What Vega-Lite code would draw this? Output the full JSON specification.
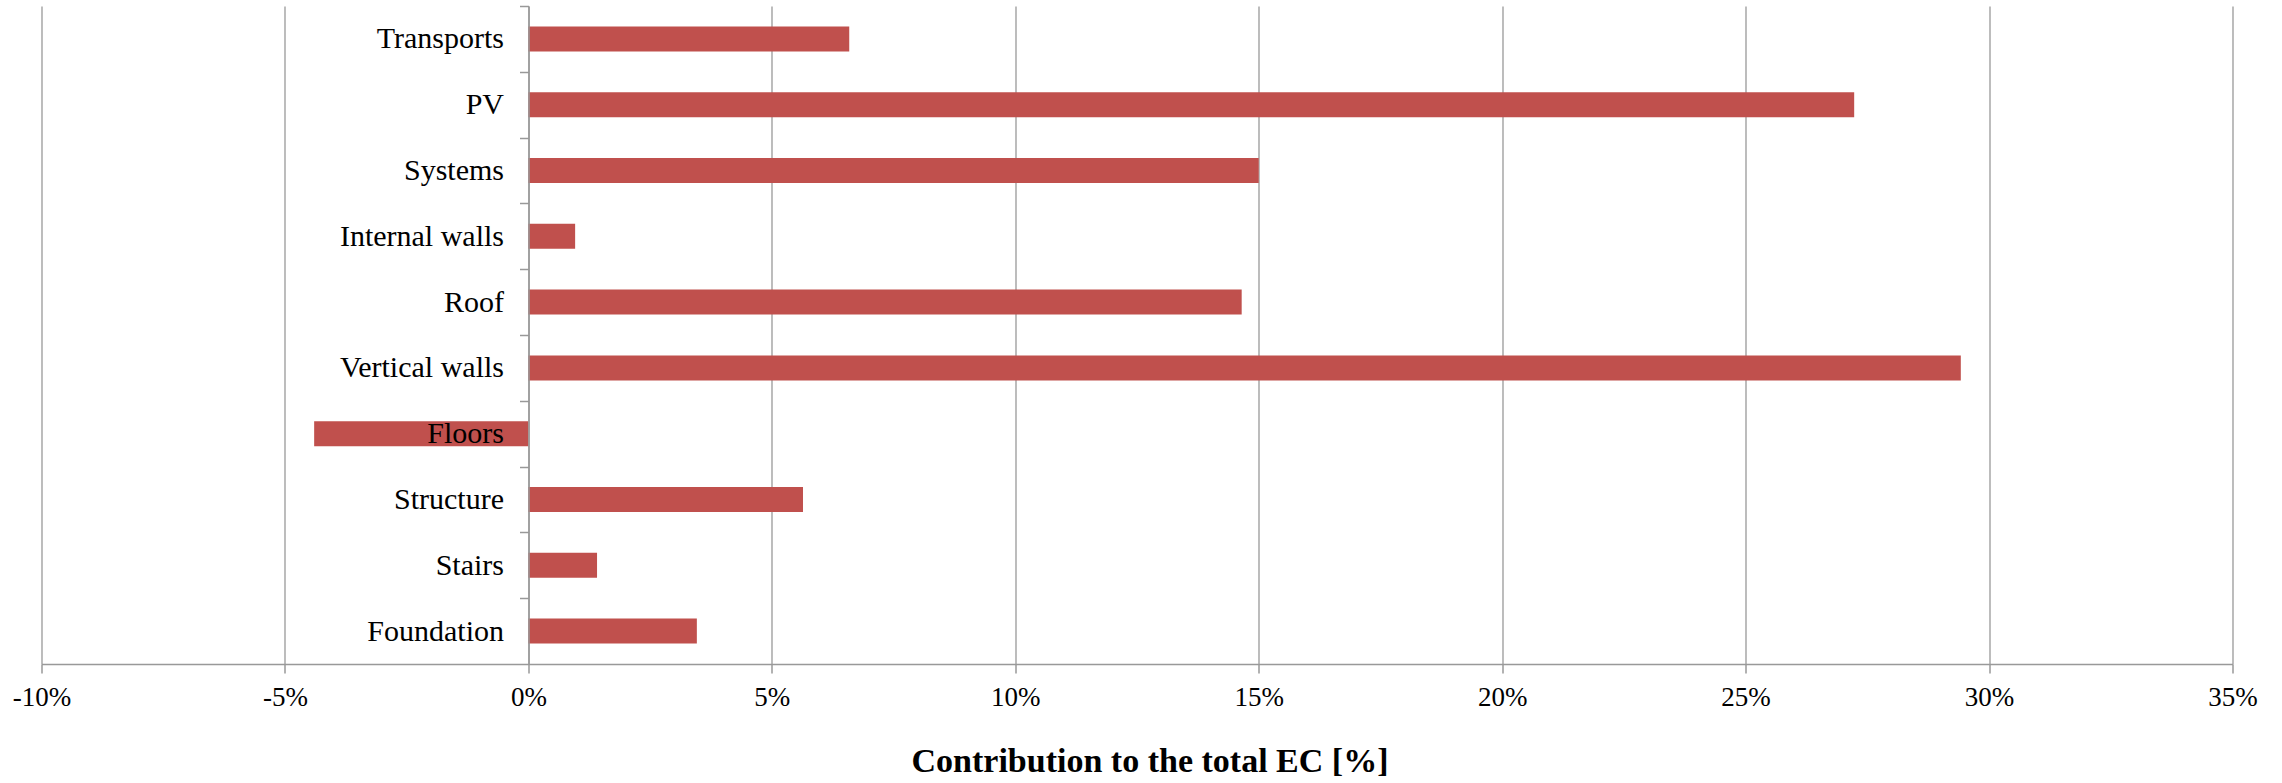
{
  "$schema": "https://vega.github.io/schema/vega-lite/v6.json",
  "autosize": {"type": "none"},
  "padding": {"left": 41.5, "top": 6, "right": 49.5, "bottom": 119},
  "width": 2191,
  "height": 658,
  "background": "white",
  "data": {
    "values": [
      {"element": "Transports", "share": 6.59},
      {"element": "PV", "share": 27.23},
      {"element": "Systems", "share": 15.0},
      {"element": "Internal walls", "share": 0.96},
      {"element": "Roof", "share": 14.65},
      {"element": "Vertical walls", "share": 29.42},
      {"element": "Floors", "share": -4.4},
      {"element": "Structure", "share": 5.64},
      {"element": "Stairs", "share": 1.41},
      {"element": "Foundation", "share": 3.46}
    ]
  },
  "mark": {"type": "bar", "color": "#C0504D"},
  "encoding": {
    "y": {
      "field": "element",
      "type": "nominal",
      "sort": ["Transports", "PV", "Systems", "Internal walls", "Roof", "Vertical walls", "Floors", "Structure", "Stairs", "Foundation"],
      "scale": {"paddingInner": 0.62, "paddingOuter": 0.31},
      "axis": {
        "title": null,
        "offset": -487,
        "zindex": 1,
        "tickOffset": -32.9,
        "labelOffset": 32.9,
        "tickSize": 9,
        "tickColor": "#999999",
        "tickWidth": 1.5,
        "domainColor": "#999999",
        "domainWidth": 1.5,
        "labelFont": "Liberation Serif",
        "labelFontSize": 30,
        "labelColor": "#000000",
        "labelPadding": 16,
        "grid": false
      }
    },
    "x": {
      "field": "share",
      "type": "quantitative",
      "scale": {"domain": [-10, 35], "nice": false, "zero": false},
      "axis": {
        "values": [-10, -5, 0, 5, 10, 15, 20, 25, 30, 35],
        "labelExpr": "datum.value + '%'",
        "labelFlush": false,
        "labelOverlap": false,
        "grid": true,
        "gridColor": "#999999",
        "gridWidth": 1.3,
        "domainColor": "#999999",
        "domainWidth": 1.5,
        "tickColor": "#999999",
        "tickWidth": 1.5,
        "tickSize": 9,
        "labelFont": "Liberation Serif",
        "labelFontSize": 27,
        "labelColor": "#000000",
        "labelPadding": 11,
        "title": "Contribution to the total EC [%]",
        "titleFont": "Liberation Serif",
        "titleFontSize": 34,
        "titleFontWeight": "bold",
        "titleColor": "#000000",
        "titleAnchor": "start",
        "titleAlign": "center",
        "titleBaseline": "alphabetic",
        "titleX": 1108,
        "titleY": 107
      }
    }
  },
  "config": {"view": {"stroke": null}}
}
